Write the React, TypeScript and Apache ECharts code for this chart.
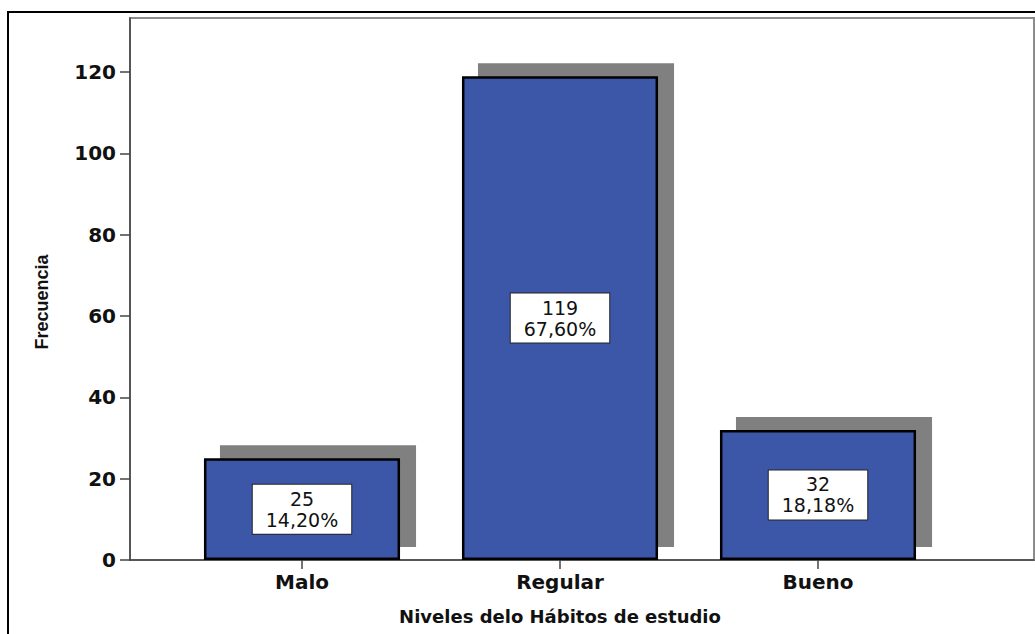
import React, { useEffect, useRef } from "react";
import * as echarts from "echarts";

const categories = ["Malo", "Regular", "Bueno"];
const frequencies = [25, 119, 32];
const percentages = ["14,20%", "67,60%", "18,18%"];
const yTicks = [0, 20, 40, 60, 80, 100, 120];
const yMax = 133.3;
const xTitle = "Niveles delo Hábitos de estudio";
const yTitle = "Frecuencia";

const BLUE = "#3C56A8";
const SHADOW = "#808080";
const BOLD = "'DejaVu Sans', sans-serif";

export default function App() {
  const ref = useRef<HTMLDivElement>(null);
  useEffect(() => {
    if (!ref.current) return;
    const chart = echarts.init(ref.current, null, { renderer: "svg" });
    const hiddenY = (idx: number) => ({
      type: "value",
      gridIndex: idx,
      min: 0,
      max: yMax,
      show: false,
    });
    chart.setOption({
      animation: false,
      backgroundColor: "#ffffff",
      grid: [
        { left: 130, right: 1, top: 18, bottom: 74, show: true, borderColor: "#8c8c8c", borderWidth: 2 },
        { left: 173, right: 88, top: 18, bottom: 74 },
        { left: 189, right: 72, top: 5, bottom: 87 },
      ],
      xAxis: [
        {
          type: "value",
          gridIndex: 0,
          min: 0,
          max: 1,
          axisLine: { show: true, onZero: false, lineStyle: { color: "#444", width: 1.5 } },
          axisTick: { show: false },
          axisLabel: { show: false },
          splitLine: { show: false },
        },
        {
          type: "category",
          gridIndex: 1,
          data: categories,
          axisLine: { show: false },
          axisTick: { show: true, alignWithLabel: true, length: 9, lineStyle: { color: "#444", width: 1.5 } },
          axisLabel: { color: "#111", fontFamily: BOLD, fontWeight: "bold", fontSize: 20, margin: 12 },
          name: xTitle,
          nameLocation: "middle",
          nameGap: 47,
          nameTextStyle: { color: "#111", fontFamily: BOLD, fontWeight: "bold", fontSize: 18 },
        },
        { type: "category", gridIndex: 2, data: categories, show: false },
      ],
      yAxis: [
        {
          type: "value",
          gridIndex: 0,
          min: 0,
          max: yMax,
          interval: 20,
          axisLine: { show: true, lineStyle: { color: "#444", width: 1.5 } },
          axisTick: { show: true, length: 10, lineStyle: { color: "#444", width: 1.5 } },
          axisLabel: {
            color: "#111",
            fontFamily: BOLD,
            fontWeight: "bold",
            fontSize: 20,
            margin: 14,
            showMaxLabel: false,
            formatter: (v: number) => (yTicks.includes(v) ? String(v) : ""),
          },
          splitLine: { show: false },
        },
        hiddenY(1),
        hiddenY(2),
      ],
      graphic: [
        {
          type: "rect",
          shape: { x: 8, y: 12, width: 1100, height: 700 },
          style: { fill: "none", stroke: "#000", lineWidth: 2 },
          silent: true,
          z: 100,
        },
        {
          type: "text",
          x: 42,
          y: 302,
          rotation: Math.PI / 2,
          style: {
            text: yTitle,
            fill: "#111",
            font: "bold 18px 'Liberation Sans', Arial, sans-serif",
            align: "center",
            verticalAlign: "middle",
          },
        },
      ],
      series: [
        {
          type: "bar",
          name: "sombra",
          xAxisIndex: 2,
          yAxisIndex: 2,
          data: frequencies,
          barWidth: "76%",
          itemStyle: { color: SHADOW },
          z: 1,
          silent: true,
        },
        {
          type: "bar",
          name: yTitle,
          xAxisIndex: 1,
          yAxisIndex: 1,
          data: frequencies,
          barWidth: "76%",
          itemStyle: { color: BLUE, borderColor: "#000", borderWidth: 2.5 },
          z: 3,
          label: {
            show: true,
            position: "inside",
            formatter: (p: any) => `${frequencies[p.dataIndex]}\n${percentages[p.dataIndex]}`,
            color: "#111",
            fontFamily: "'DejaVu Sans', sans-serif",
            fontSize: 19,
            lineHeight: 21,
            backgroundColor: "#ffffff",
            borderColor: "#222",
            borderWidth: 1,
            padding: [4, 13, 3, 13],
          },
        },
      ],
    });
    return () => chart.dispose();
  }, []);
  return (
    <div
      ref={ref}
      style={{ position: "fixed", left: 0, top: 0, width: 1035, height: 634, background: "#fff" }}
    />
  );
}
